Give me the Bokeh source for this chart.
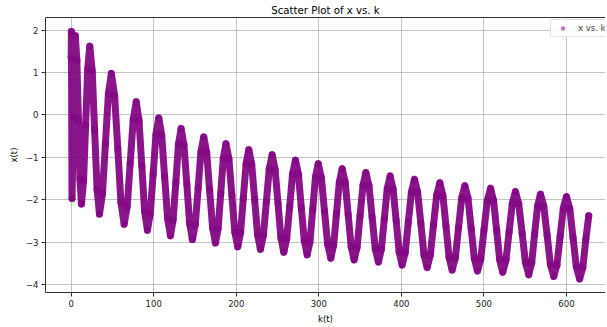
from bokeh.plotting import figure
from bokeh.models import (Range1d, FixedTicker, CustomJSTickFormatter, LinearAxis,
                          Legend, LegendItem, ColumnDataSource)
from bokeh.embed import file_html
from bokeh.resources import INLINE

# Values (k(t), x(t))
k_vals = [
    0.0, 0.3, 1.0, 3.0, 5.0,
    6.9, 8.8, 10.6, 12.5,
    15.0, 17.5, 20.0, 22.5,
    25.5, 28.4, 31.4, 34.3,
    37.9, 41.5, 45.1, 48.7,
    52.6, 56.5, 60.3, 64.2,
    67.9, 71.5, 75.2, 78.8,
    82.2, 85.6, 89.0, 92.4,
    95.8, 99.3, 102.7, 106.1,
    109.7, 113.2, 116.8, 120.3,
    123.5, 126.8, 130.0, 133.2,
    136.6, 140.1, 143.5, 146.9,
    150.3, 153.8, 157.2, 160.6,
    164.2, 167.7, 171.3, 174.8,
    178.0, 181.2, 184.3, 187.5,
    191.1, 194.7, 198.2, 201.8,
    205.2, 208.5, 211.9, 215.2,
    218.7, 222.3, 225.8, 229.3,
    232.9, 236.4, 240.0, 243.5,
    247.0, 250.6, 254.1, 257.6,
    261.1, 264.7, 268.2, 271.7,
    275.3, 278.8, 282.4, 285.9,
    289.3, 292.6, 296.0, 299.3,
    303.1, 306.9, 310.7, 314.5,
    318.0, 321.4, 324.9, 328.3,
    331.9, 335.6, 339.2, 342.8,
    346.4, 349.9, 353.5, 357.0,
    360.8, 364.6, 368.4, 372.2,
    375.8, 379.3, 382.9, 386.4,
    390.0, 393.7, 397.3, 400.9,
    404.7, 408.4, 412.2, 415.9,
    419.7, 423.6, 427.4, 431.2,
    435.1, 438.9, 442.8, 446.6,
    450.3, 454.1, 457.8, 461.5,
    465.4, 469.2, 473.1, 476.9,
    480.7, 484.6, 488.4, 492.2,
    496.2, 500.1, 504.1, 508.0,
    511.7, 515.4, 519.1, 522.8,
    526.7, 530.5, 534.4, 538.2,
    542.2, 546.3, 550.3, 554.3,
    557.9, 561.4, 565.0, 568.5,
    572.5, 576.6, 580.6, 584.6,
    588.5, 592.3, 596.2, 600.0,
    604.0, 608.0, 612.0, 616.0,
    619.8, 623.5, 627.0,
]
x_vals = [
    1.35, 1.97, -1.97, -0.05, 1.87,
    1.29, -0.12, -1.52, -2.10,
    -1.56, -0.24, 1.08, 1.62,
    1.04, -0.36, -1.76, -2.34,
    -1.86, -0.68, 0.50, 0.98,
    0.46, -0.80, -2.06, -2.58,
    -2.16, -1.14, -0.11, 0.31,
    -0.13, -1.21, -2.28, -2.72,
    -2.33, -1.40, -0.46, -0.07,
    -0.48, -1.46, -2.44, -2.85,
    -2.48, -1.59, -0.69, -0.32,
    -0.70, -1.63, -2.56, -2.94,
    -2.59, -1.73, -0.87, -0.52,
    -0.89, -1.77, -2.66, -3.02,
    -2.68, -1.85, -1.02, -0.68,
    -1.04, -1.90, -2.76, -3.11,
    -2.78, -1.97, -1.15, -0.82,
    -1.16, -2.00, -2.83, -3.17,
    -2.84, -2.06, -1.27, -0.94,
    -1.28, -2.09, -2.90, -3.24,
    -2.92, -2.16, -1.39, -1.07,
    -1.40, -2.19, -2.97, -3.30,
    -2.99, -2.23, -1.46, -1.15,
    -1.48, -2.27, -3.05, -3.38,
    -3.07, -2.33, -1.58, -1.27,
    -1.58, -2.35, -3.11, -3.42,
    -3.12, -2.39, -1.66, -1.36,
    -1.67, -2.42, -3.16, -3.47,
    -3.17, -2.46, -1.74, -1.44,
    -1.75, -2.49, -3.23, -3.54,
    -3.25, -2.53, -1.82, -1.52,
    -1.82, -2.56, -3.30, -3.60,
    -3.31, -2.60, -1.89, -1.60,
    -1.90, -2.63, -3.36, -3.66,
    -3.37, -2.67, -1.96, -1.67,
    -1.96, -2.68, -3.39, -3.68,
    -3.40, -2.71, -2.02, -1.73,
    -2.02, -2.72, -3.42, -3.71,
    -3.43, -2.76, -2.09, -1.81,
    -2.10, -2.79, -3.48, -3.77,
    -3.49, -2.82, -2.15, -1.87,
    -2.15, -2.84, -3.53, -3.81,
    -3.54, -2.87, -2.20, -1.93,
    -2.21, -2.90, -3.59, -3.87,
    -3.60, -2.93, -2.38,
]

x_ticks = [0, 100, 200, 300, 400, 500, 600]
y_ticks = [-4, -3, -2, -1, 0, 1, 2]
title_text = "Scatter Plot of x vs. k"
x_label = "k(t)"
y_label = "x(t)"
legend_label = "x vs. k"

FONT = "DejaVu Sans"
PURPLE = "#800080"
SMALL = "8.5px"

src = ColumnDataSource(dict(k=k_vals, x=x_vals))

p = figure(frame_width=560, frame_height=275, output_backend="svg", toolbar_location=None,
           x_range=Range1d(-31.1, 647.3), y_range=Range1d(-4.19, 2.30),
           title=title_text, min_border_left=45, min_border_right=0,
           min_border_top=0, min_border_bottom=0)

p.background_fill_color = "white"
p.border_fill_color = "white"
p.outline_line_color = None

p.title.text_font = FONT
p.title.text_font_size = "10.2px"
p.title.text_font_style = "normal"
p.title.text_color = "black"
p.title.align = "center"
p.title.standoff = 4

fmt = CustomJSTickFormatter(code="return tick < 0 ? '\u2212' + Math.abs(tick) : '' + tick;")

for ax, ticks, lab in ((p.xaxis[0], x_ticks, x_label), (p.yaxis[0], y_ticks, y_label)):
    ax.ticker = FixedTicker(ticks=ticks)
    ax.formatter = fmt
    ax.axis_label = lab
    ax.axis_label_text_font = FONT
    ax.axis_label_text_font_size = SMALL
    ax.axis_label_text_font_style = "normal"
    ax.axis_label_text_color = "black"
    ax.axis_label_standoff = 4
    ax.major_label_text_font = FONT
    ax.major_label_text_font_size = SMALL
    ax.major_label_text_color = "#222222"
    ax.major_label_standoff = 3
    ax.major_tick_in = 0
    ax.major_tick_out = 4
    ax.minor_tick_in = 0
    ax.minor_tick_out = 0
    ax.axis_line_color = "#333333"
    ax.major_tick_line_color = "#333333"

top = LinearAxis(ticker=FixedTicker(ticks=[]), major_label_text_font_size="0px",
                 major_tick_out=0, minor_tick_out=0, axis_line_color="#333333")
p.add_layout(top, "above")

p.xgrid.ticker = FixedTicker(ticks=x_ticks)
p.ygrid.ticker = FixedTicker(ticks=y_ticks)
p.grid.grid_line_color = "#b0b0b0"
p.grid.grid_line_alpha = 0.75
p.grid.grid_line_width = 1

p.line("k", "x", source=src, line_color=PURPLE, line_width=7, line_alpha=0.92,
       line_join="round", line_cap="round")
r = p.scatter("k", "x", source=src, size=7, fill_color=PURPLE, fill_alpha=0.5,
              line_color=PURPLE, line_alpha=0.2)

legend = Legend(items=[LegendItem(label=legend_label, renderers=[r])],
                location=(505, 255), margin=0, padding=3, spacing=0,
                glyph_width=17, glyph_height=10, label_standoff=7,
                label_height=10, label_text_font=FONT, label_text_font_size=SMALL,
                border_line_color="#cccccc", background_fill_alpha=0.85)
p.add_layout(legend)

open("out.html", "w").write(file_html(p, INLINE))
